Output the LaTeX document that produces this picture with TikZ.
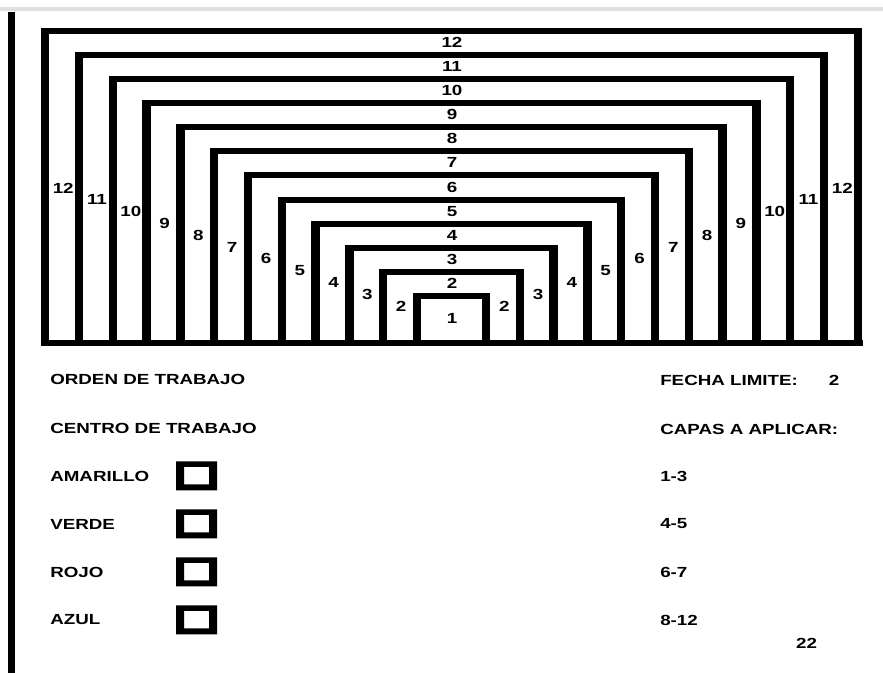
\documentclass[tikz,border=0pt]{standalone}
\usepackage{fontspec}
\setmainfont{Liberation Sans}[FakeStretch=1.28]

\begin{document}
\begin{tikzpicture}[x=0.75pt,y=-0.75pt,
	lbl/.style={font=\bfseries\fontsize{11}{13}\selectfont,inner sep=0pt},
	txt/.style={lbl,anchor=west}]
	\useasboundingbox (0,0) rectangle (883,673);
	\fill[gray!25] (0,7) rectangle (883,11);
	\fill (8,12) rectangle (15,673);
	% nested layers, 1 inside, 12 outside
	\foreach \k in {1,...,12}{
		\pgfmathsetmacro{\xl}{417-33.8*(\k-1)}
		\pgfmathsetmacro{\xr}{486+33.8*(\k-1)}
		\pgfmathsetmacro{\yt}{296-24.1*(\k-1)}
		\fill (\xl-4.25,\yt-3) rectangle (\xr+4.25,\yt+3);
		\fill (\xl-4.25,\yt-3) rectangle (\xl+4.25,346);
		\fill (\xr-4.25,\yt-3) rectangle (\xr+4.25,346);
	}
	\fill (41,340) rectangle (863,346);
	% layer numbers
	\node[lbl] (t1) at (452,318) {1};
	\foreach \k in {2,...,12}{
		\pgfmathsetmacro{\xl}{417-33.8*(\k-1)+18}
		\pgfmathsetmacro{\xr}{486+33.8*(\k-1)-15.5}
		\pgfmathsetmacro{\yt}{296-24.1*(\k-1)+11.5}
		\pgfmathsetmacro{\ys}{188+11.8*(12-\k)}
		\node[lbl] (t\k) at (452,\yt) {\k};
		\node[lbl] (l\k) at (\xl,\ys) {\k};
		\node[lbl] (r\k) at (\xr,\ys) {\k};
	}
	% form
	\node[txt] (orden) at (50,379) {ORDEN DE TRABAJO};
	\node[txt] (centro) at (50,428) {CENTRO DE TRABAJO};
	\foreach \c/\y in {AMARILLO/476,VERDE/524,ROJO/572,AZUL/620}{
		\node[txt] (\c) at (50,\y) {\c};
		\fill[even odd rule] (176,\y-14.5) rectangle (217,\y+14.5)
			(184,\y-9) rectangle (209,\y+8.5);
	}
	\node[txt] (fecha) at (660,380) {FECHA LIMITE:};
	\node[lbl] (dias) at (834,380) {2};
	\node[txt] (capas) at (660,429) {CAPAS A APLICAR:};
	\foreach \r/\y in {1-3/476,4-5/524,6-7/572,8-12/620}{
		\node[txt] (capa\y) at (660,\y) {\r};
	}
	\node[lbl] (pag) at (806.5,643) {22};
\end{tikzpicture}
\end{document}
